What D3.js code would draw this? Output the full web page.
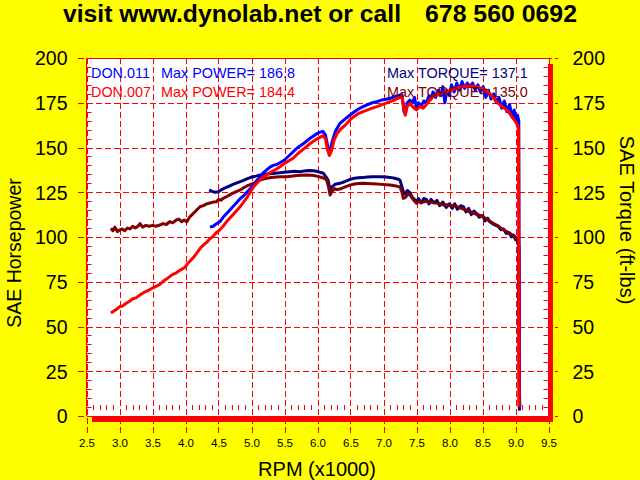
<!DOCTYPE html>
<html><head><meta charset="utf-8">
<script src="https://cdn.jsdelivr.net/npm/d3@7"></script>
<style>html,body{margin:0;padding:0;background:#ffff00;}svg{display:block;font-family:"Liberation Sans",Arial,sans-serif;}</style>
</head><body>
<script>
// ---- data ----
const xTickValues = [2.5,3.0,3.5,4.0,4.5,5.0,5.5,6.0,6.5,7.0,7.5,8.0,8.5,9.0,9.5];
const yTickValues = [0,25,50,75,100,125,150,175,200];
const runNames = ["DON.011","DON.007"];
const maxPower = [186.8, 184.4];
const maxTorque = [137.1, 135.0];

// DON.011 power (blue)
const hp011 = [[4.37,105.5],[4.42,106],[4.47,107.5],[4.52,108.5],[4.57,111],[4.62,113],[4.67,115],[4.72,117],[4.77,119],[4.83,121.5],[4.88,123],[4.93,125],[4.98,127],[5.03,129],[5.08,131.5],[5.13,133.5],[5.18,136],[5.23,137.5],[5.28,139],[5.33,140],[5.38,140.5],[5.43,141.5],[5.5,143],[5.6,146.5],[5.7,150],[5.8,152.5],[5.9,155.5],[6.0,158],[6.08,159],[6.12,157],[6.16,150],[6.19,147],[6.22,153],[6.27,159],[6.34,163.5],[6.42,166],[6.49,168],[6.56,170],[6.62,171.5],[6.69,172.8],[6.76,174],[6.83,175],[6.9,175.6],[6.97,176.5],[7.04,177],[7.1,177.5],[7.17,178.5],[7.22,179],[7.28,179.5],[7.31,170],[7.33,169],[7.36,175],[7.4,176.5],[7.44,175],[7.47,178],[7.5,172],[7.53,175],[7.57,173],[7.61,176],[7.65,174.7],[7.69,179],[7.72,177],[7.75,181],[7.79,178],[7.83,182],[7.87,179],[7.9,184],[7.93,175],[7.96,182],[8.0,179],[8.03,185],[8.07,181],[8.11,186],[8.15,182],[8.19,186.8],[8.23,183],[8.27,186],[8.31,184],[8.35,186],[8.39,182],[8.43,185],[8.47,181],[8.51,184],[8.55,178],[8.59,182],[8.63,177],[8.67,180],[8.71,175],[8.75,178],[8.79,172],[8.83,176],[8.87,170],[8.91,174],[8.95,167],[8.98,171],[9.01,164],[9.03,168],[9.05,165],[9.06,16],[9.065,5]];
// DON.007 power (red)
const hp007 = [[2.87,57.5],[2.95,59.5],[3.0,61],[3.05,61.5],[3.1,63],[3.15,64],[3.2,65.5],[3.25,66],[3.31,67.6],[3.37,69],[3.43,70],[3.5,71.5],[3.56,72.5],[3.61,73.5],[3.67,75.5],[3.73,77],[3.8,79],[3.86,80],[3.92,81.5],[3.99,83],[4.03,85],[4.08,87],[4.13,89],[4.17,91],[4.22,93.5],[4.27,95.5],[4.32,97],[4.37,99],[4.42,100.5],[4.47,102.5],[4.52,104],[4.57,106],[4.62,108.5],[4.67,110.5],[4.72,112.5],[4.77,114.5],[4.83,117],[4.88,119.5],[4.93,122],[4.98,125],[5.03,128],[5.08,130],[5.13,132],[5.18,133.5],[5.23,134.6],[5.28,136],[5.33,137],[5.38,138],[5.43,139.3],[5.5,141],[5.56,142.5],[5.63,144],[5.7,146.5],[5.8,149.5],[5.9,152.5],[6.0,155],[6.08,156.5],[6.12,155],[6.15,149],[6.18,145.5],[6.21,148],[6.25,154],[6.3,158],[6.34,159.8],[6.42,162.5],[6.49,165.4],[6.56,167.5],[6.62,169],[6.69,170],[6.76,171],[6.83,172],[6.9,172.8],[6.97,173.8],[7.04,174.8],[7.1,175.6],[7.17,176.6],[7.22,177.5],[7.28,178.4],[7.31,172],[7.33,168],[7.36,173],[7.4,174.7],[7.45,172.5],[7.5,171],[7.55,173],[7.6,171.9],[7.65,174],[7.7,176.5],[7.75,178.4],[7.8,179.5],[7.85,180],[7.9,180.5],[7.96,181.2],[8.02,182],[8.08,183],[8.14,183.5],[8.21,184],[8.28,184.4],[8.35,184.2],[8.41,184],[8.48,183.2],[8.56,182],[8.61,180],[8.66,178],[8.71,175.6],[8.76,174],[8.81,172.5],[8.87,171],[8.92,168.5],[8.97,166],[9.02,163.5],[9.045,160],[9.05,100],[9.055,5]];
// DON.011 torque (navy)
const tq011 = [[4.36,126.3],[4.4,125.5],[4.45,125],[4.5,125.3],[4.55,126.5],[4.6,127.5],[4.67,128.5],[4.73,129.5],[4.8,130.5],[4.87,131.5],[4.93,132.5],[5.0,133.5],[5.07,134],[5.13,134.6],[5.2,135],[5.28,135.3],[5.35,135.6],[5.43,135.9],[5.5,136.2],[5.58,136.5],[5.66,136.7],[5.73,136.5],[5.8,136.9],[5.87,137.1],[5.94,137],[6.0,136.6],[6.05,136],[6.09,135.6],[6.13,133.5],[6.16,131.8],[6.19,126.5],[6.22,128],[6.27,129.5],[6.34,130],[6.42,131],[6.49,132.2],[6.56,132.8],[6.62,133.1],[6.69,133.3],[6.76,133.5],[6.83,133.6],[6.9,133.7],[6.97,133.6],[7.04,133.5],[7.1,133.3],[7.17,132.8],[7.22,132.3],[7.25,131.8],[7.28,128],[7.3,125.3],[7.33,124],[7.36,126],[7.4,124.8],[7.44,122],[7.47,121],[7.5,119.7],[7.53,121.5],[7.57,119],[7.61,121.5],[7.65,121],[7.69,118.5],[7.72,121],[7.77,119],[7.81,120.5],[7.85,117.5],[7.9,119.5],[7.95,116.5],[8.0,118.5],[8.04,116],[8.08,118.5],[8.12,115.5],[8.17,117.5],[8.21,117],[8.25,114],[8.29,116],[8.33,112.5],[8.37,114.5],[8.41,113.2],[8.45,111],[8.5,112],[8.54,109],[8.58,110.5],[8.61,108.5],[8.65,107.5],[8.7,106.5],[8.74,106],[8.78,104],[8.82,104.5],[8.86,102],[8.9,102.5],[8.94,100],[8.97,101.1],[9.0,98.5],[9.02,99.5],[9.04,96],[9.05,95],[9.06,3]];
// DON.007 torque (maroon)
const tq007 = [[2.87,104.9],[2.9,103.5],[2.93,105.5],[2.97,103],[3.0,103.9],[3.04,104.5],[3.08,103.5],[3.12,105],[3.16,104.5],[3.2,106],[3.24,105],[3.28,106],[3.31,107.5],[3.35,105.5],[3.4,106.5],[3.45,106],[3.5,106.5],[3.55,106],[3.61,106.7],[3.66,107.5],[3.71,107],[3.76,108.5],[3.81,108],[3.86,109.5],[3.9,110],[3.94,108.5],[3.98,109.5],[4.02,108.5],[4.06,111],[4.1,112.5],[4.14,114],[4.18,115.5],[4.22,116.9],[4.27,117.5],[4.32,118.5],[4.37,119],[4.42,119.5],[4.47,119.7],[4.5,121],[4.54,120.5],[4.57,121.6],[4.62,122.5],[4.67,123.5],[4.72,124.5],[4.78,125.5],[4.83,126.3],[4.88,127.5],[4.93,128.5],[4.98,129.3],[5.03,130],[5.08,131],[5.13,131.8],[5.18,132.4],[5.23,132.8],[5.3,133.2],[5.38,133.5],[5.45,133.6],[5.53,133.7],[5.6,134],[5.68,134.3],[5.76,134.5],[5.84,134.6],[5.92,134.5],[5.99,134],[6.05,133.4],[6.1,132.8],[6.14,131.8],[6.17,127.5],[6.19,123.5],[6.22,125.5],[6.26,127],[6.29,126.5],[6.34,126.8],[6.42,128],[6.49,129],[6.56,129.6],[6.62,129.9],[6.69,130],[6.76,129.9],[6.83,129.8],[6.9,129.6],[6.97,129.4],[7.04,129.2],[7.1,129],[7.17,128.6],[7.25,128],[7.28,125],[7.3,121.6],[7.33,122],[7.37,124],[7.4,123.5],[7.44,121.5],[7.47,120],[7.5,118.8],[7.55,120],[7.6,119.5],[7.65,120],[7.7,119.7],[7.75,119.2],[7.8,119],[7.85,118.5],[7.91,117.9],[7.96,118],[8.01,117.8],[8.06,117.5],[8.11,117],[8.16,116.3],[8.21,115.6],[8.26,114.8],[8.31,114.1],[8.36,113.4],[8.41,112.7],[8.46,112],[8.51,111.3],[8.56,110],[8.61,108.8],[8.66,107.7],[8.71,106.7],[8.76,105.4],[8.81,104.2],[8.86,103.1],[8.92,102],[8.97,100.6],[9.01,99.8],[9.04,97],[9.05,95],[9.055,5]];

// ---- drawing ----
const W = 640, H = 480;
const svg = d3.select("body").append("svg").attr("width", W).attr("height", H);
svg.append("rect").attr("width", W).attr("height", H).attr("fill", "#ffff00");

const x = d3.scaleLinear().domain([2.5, 9.5]).range([86.5, 548.5]);
const y = d3.scaleLinear().domain([0, 200]).range([416, 58]);
const RED = "#ff0000";

// plot background
svg.append("rect").attr("x", x(2.5)).attr("y", y(200)).attr("width", x(9.5) - x(2.5)).attr("height", y(0) - y(200)).attr("fill", "#fff");

// minor ticks (inside)
const minorX = d3.range(26, 95).map(d => d / 10).filter(d => Math.abs(d * 2 - Math.round(d * 2)) > 1e-6);
svg.append("g").selectAll("line").data(minorX).join("line")
  .attr("x1", d => Math.round(x(d)) + 0.5).attr("x2", d => Math.round(x(d)) + 0.5)
  .attr("y1", 405).attr("y2", 410).attr("stroke", RED);
const minorY = d3.range(5, 200, 5).filter(d => d % 25 !== 0);
svg.append("g").selectAll("line").data(minorY).join("line")
  .attr("x1", x(2.5)).attr("x2", x(2.5) + 5)
  .attr("y1", d => Math.round(y(d)) + 0.5).attr("y2", d => Math.round(y(d)) + 0.5).attr("stroke", RED);
svg.append("g").selectAll("line").data(minorY).join("line")
  .attr("x1", x(9.5) - 5).attr("x2", x(9.5))
  .attr("y1", d => Math.round(y(d)) + 0.5).attr("y2", d => Math.round(y(d)) + 0.5).attr("stroke", RED);

// dashed grid
svg.append("g").selectAll("line").data(yTickValues).join("line")
  .attr("x1", 78).attr("x2", 558)
  .attr("y1", d => Math.round(y(d)) + 0.5).attr("y2", d => Math.round(y(d)) + 0.5)
  .attr("stroke", RED).attr("stroke-dasharray", "6,3");
svg.append("g").selectAll("line").data(xTickValues).join("line")
  .attr("x1", d => Math.round(x(d)) + 0.5).attr("x2", d => Math.round(x(d)) + 0.5)
  .attr("y1", 58).attr("y2", 435)
  .attr("stroke", RED).attr("stroke-dasharray", "6,3");

// solid frame (left, top)
svg.append("line").attr("x1", 86.5).attr("x2", 86.5).attr("y1", 58).attr("y2", 416).attr("stroke", RED);
svg.append("line").attr("x1", 86).attr("x2", 548.5).attr("y1", 58.5).attr("y2", 58.5).attr("stroke", RED);

// lines
const line = d3.line().x(d => x(d[0])).y(d => y(d[1]));
const series = [
  {data: tq011, color: "#000080"},
  {data: tq007, color: "#800000"},
  {data: hp011, color: "#0000ff"},
  {data: hp007, color: "#ff0000"}
];
svg.append("g").selectAll("path").data(series).join("path")
  .attr("d", d => line(d.data)).attr("fill", "none")
  .attr("stroke", d => d.color).attr("stroke-width", 3)
  .attr("stroke-linejoin", "round");

// shadow bars (bottom, right)
svg.append("rect").attr("x", 92).attr("y", 416).attr("width", 461).attr("height", 6).attr("fill", RED);
svg.append("rect").attr("x", 548).attr("y", 64).attr("width", 5).attr("height", 358).attr("fill", RED);

// axes (labels only)
const fmt = d3.format(".1f");
const gx = svg.append("g").attr("transform", `translate(0,${y(0)})`)
  .call(d3.axisBottom(x).tickValues(xTickValues).tickFormat(fmt).tickSize(0).tickPadding(0));
gx.select(".domain").remove();
gx.selectAll("text").attr("y", 31).attr("dy", 0).attr("fill", "#000")
  .style("font-size", "11.5px").style("font-family", '"Liberation Sans",Arial,sans-serif');

const gyl = svg.append("g").attr("transform", `translate(${x(2.5)},0)`)
  .call(d3.axisLeft(y).tickValues(yTickValues).tickSize(0).tickPadding(19));
gyl.select(".domain").remove();
gyl.selectAll("text").attr("dy", "0.35em").attr("fill", "#000")
  .style("font-size", "19.5px").style("font-family", '"Liberation Sans",Arial,sans-serif');

const gyr = svg.append("g").attr("transform", `translate(${x(9.5)},0)`)
  .call(d3.axisRight(y).tickValues(yTickValues).tickSize(0).tickPadding(24));
gyr.select(".domain").remove();
gyr.selectAll("text").attr("dy", "0.35em").attr("fill", "#000")
  .style("font-size", "19.5px").style("font-family", '"Liberation Sans",Arial,sans-serif');

// titles
svg.append("text").attr("x", 63).attr("y", 22).attr("font-weight", "bold").attr("font-size", 23)
  .attr("textLength", 338).attr("lengthAdjust", "spacingAndGlyphs").text("visit www.dynolab.net or call");
svg.append("text").attr("x", 425).attr("y", 22).attr("font-weight", "bold").attr("font-size", 23)
  .attr("textLength", 152).attr("lengthAdjust", "spacingAndGlyphs").text("678 560 0692");

svg.append("text").attr("x", 317).attr("y", 476).attr("text-anchor", "middle").attr("font-size", 20)
  .text("RPM (x1000)");
svg.append("text").attr("transform", "translate(20.5,253) rotate(-90)").attr("text-anchor", "middle")
  .attr("font-size", 19.5).text("SAE Horsepower");
svg.append("text").attr("transform", "translate(620,220) rotate(90)").attr("text-anchor", "middle")
  .attr("font-size", 20).text("SAE Torque (ft-lbs)");

// legend texts
const legFont = 14.4;
svg.append("text").attr("x", 91).attr("y", 78).attr("font-size", legFont).attr("fill", "#0000ff").text(runNames[0]);
svg.append("text").attr("x", 161).attr("y", 78).attr("font-size", legFont).attr("fill", "#0000ff").text("Max POWER= " + maxPower[0].toFixed(1));
svg.append("text").attr("x", 91).attr("y", 97).attr("font-size", legFont).attr("fill", "#ff0000").text(runNames[1]);
svg.append("text").attr("x", 161).attr("y", 97).attr("font-size", legFont).attr("fill", "#ff0000").text("Max POWER= " + maxPower[1].toFixed(1));
svg.append("text").attr("x", 387).attr("y", 78).attr("font-size", legFont).attr("fill", "#000080").text("Max TORQUE= " + maxTorque[0].toFixed(1));
svg.append("text").attr("x", 387).attr("y", 97).attr("font-size", legFont).attr("fill", "#800000").text("Max TORQUE= " + maxTorque[1].toFixed(1));
</script>
</body></html>
